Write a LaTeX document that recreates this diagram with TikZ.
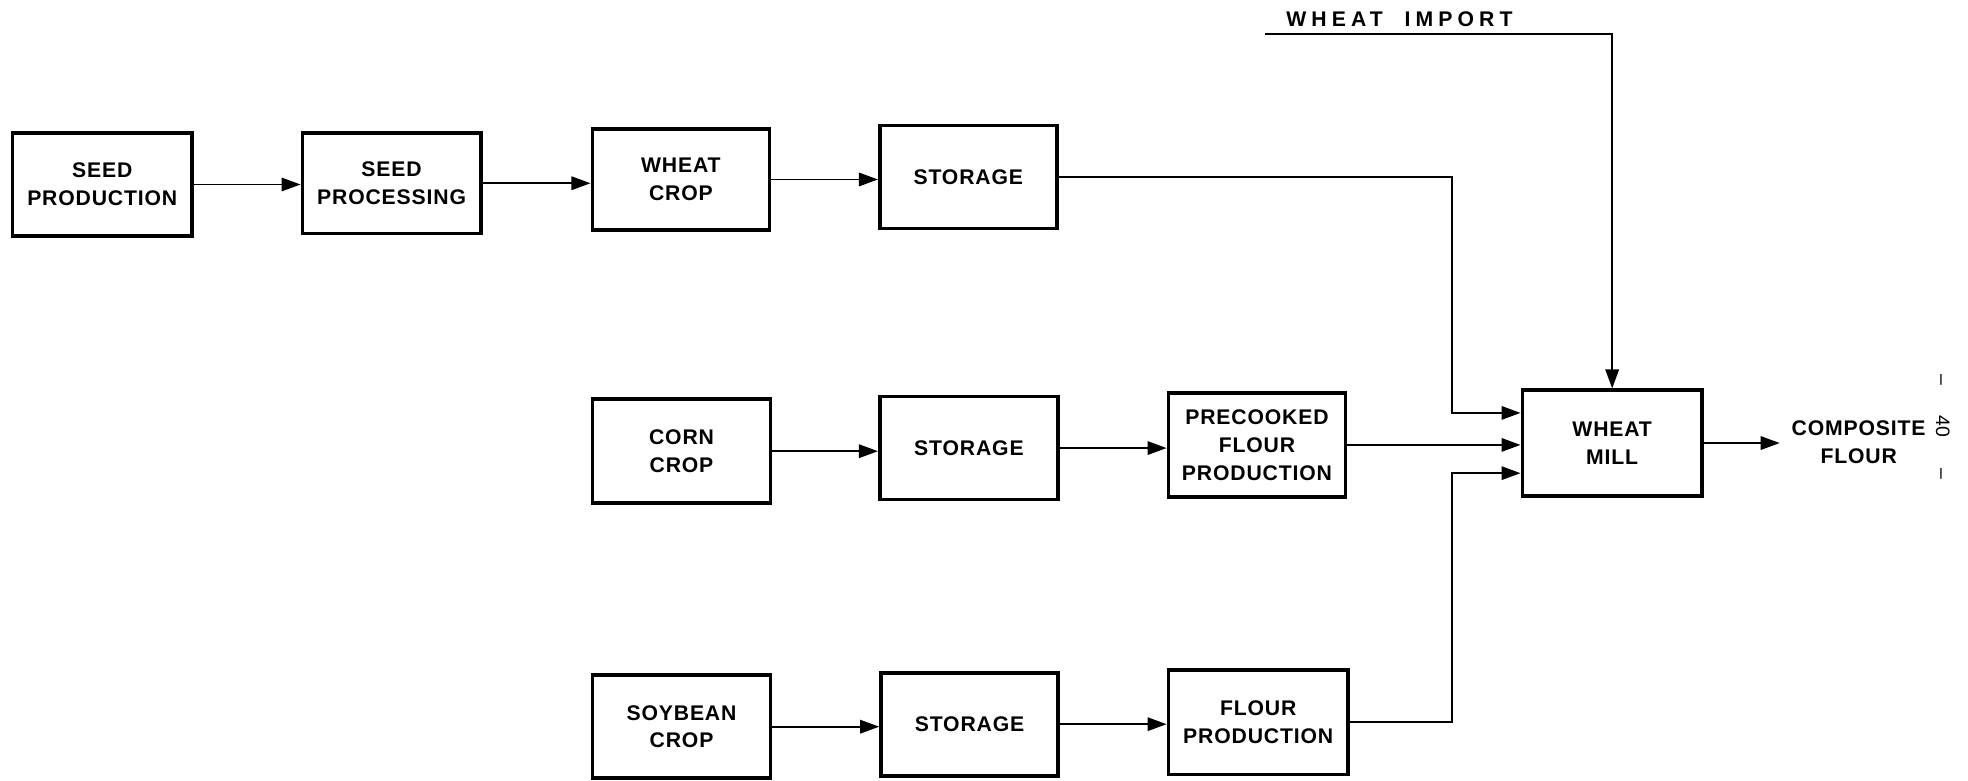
\documentclass[tikz,border=0pt]{standalone}
\usepackage{fontspec}
\setmainfont{Liberation Sans}
\newfontfamily\widefont[LetterSpace=24]{Liberation Sans}
\newfontfamily\boxfont[LetterSpace=4]{Liberation Sans}
\usetikzlibrary{arrows.meta,calc}
\tikzset{
  box/.style={draw, line width=1.05pt, inner sep=0pt, align=center,
    font=\boxfont\bfseries\fontsize{6}{7.9}\selectfont},
  sz/.style 2 args={minimum width={#1*0.0125cm}, minimum height={#2*0.0125cm}},
  conn/.style={line width=0.55pt},
  arr/.style={conn, -{Triangle[length=5.4pt,width=3.8pt]}},
  lbl/.style={inner sep=0pt, align=center, font=\boxfont\bfseries\fontsize{6}{7.9}\selectfont}
}
\begin{document}
\begin{tikzpicture}[x=0.0125cm,y=-0.0125cm]
\useasboundingbox (0,0) rectangle (1568,622);
% row 1
\node[box, sz={143}{82}] (sp) at (81.5,147) {SEED\\PRODUCTION};
\node[box, sz={142}{80}] (spr) at (312,146) {SEED\\PROCESSING};
\node[box, sz={141}{80}] (wc) at (542.5,143) {WHEAT\\CROP};
\node[box, sz={141}{82}] (st1) at (771.5,141) {STORAGE};
% row 2
\node[box, sz={142}{83}] (cc) at (543,359.5) {CORN\\CROP};
\node[box, sz={142}{82}] (st2) at (772,357) {STORAGE};
\node[box, sz={141}{83}] (pre) at (1001.5,354.5) {PRECOOKED\\FLOUR\\PRODUCTION};
\node[box, sz={143}{84}] (mill) at (1284.5,353) {WHEAT\\MILL};
% row 3
\node[box, sz={142}{82}] (sc) at (543,579) {SOYBEAN\\CROP};
\node[box, sz={141}{82}] (st3) at (772.5,577) {STORAGE};
\node[box, sz={143}{83}] (fp) at (1002.5,575.5) {FLOUR\\PRODUCTION};
% labels
\node[lbl, anchor=west] (cf) at (1427,352) {COMPOSITE\\FLOUR};
\node[inner sep=0pt, font=\bfseries\widefont\fontsize{6}{7}\selectfont] (wi) at (1115,15) {WHEAT\ \ IMPORT};
\node[inner sep=0pt, rotate=-90, font=\fontsize{5.5}{6}\selectfont] (pg) at (1548,340) {--\hspace{1.6em}40\hspace{1.6em}--};
% coordinates
\coordinate (bus) at (1157,0);
\coordinate (imp) at (1008,27);
\coordinate (in1) at ($(mill.west)+(0,-24)$);
\coordinate (in3) at ($(mill.west)+(0,24)$);
\coordinate (out) at ($(cf.west)+(-9,0)$);
% connectors
\draw[arr] (sp.east) -- (sp.east -| spr.west);
\draw[arr] (spr.east) -- (spr.east -| wc.west);
\draw[arr] (wc.east) -- (wc.east -| st1.west);
\draw[arr] (st1.east) -| (bus |- in1) -- (in1);
\draw[arr] (cc.east) -- (cc.east -| st2.west);
\draw[arr] (st2.east) -- (st2.east -| pre.west);
\draw[arr] (pre.east) -- (pre.east -| mill.west);
\draw[arr] (sc.east) -- (sc.east -| st3.west);
\draw[arr] (st3.east) -- (st3.east -| fp.west);
\draw[arr] (fp.east) -| (bus |- in3) -- (in3);
\draw[arr] (imp) -| (mill.north);
\draw[arr] (mill.east) -- (mill.east -| out);
\end{tikzpicture}
\end{document}
